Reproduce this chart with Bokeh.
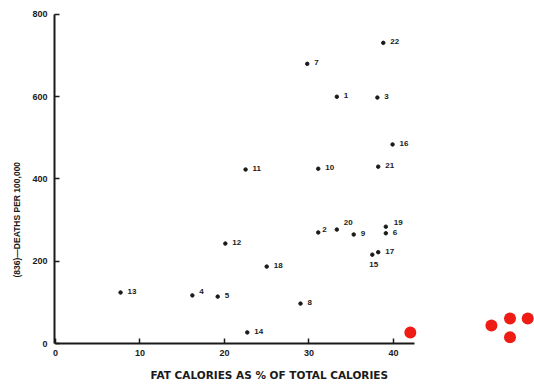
import math
from bokeh.plotting import figure
from bokeh.models import Range1d, FixedTicker, ColumnDataSource, Title
from bokeh.core.properties import value
from bokeh.embed import file_html
from bokeh.resources import INLINE

# ---- data ----
point_ids = ["1", "2", "3", "4", "5", "6", "7", "8", "9", "10", "11",
             "12", "13", "14", "15", "16", "17", "18", "19", "20", "21", "22"]
fat_pct = [33.3, 31.1, 38.1, 16.2, 19.2, 39.1, 29.8, 29.0, 35.3, 31.1, 22.5,
           20.1, 7.7, 22.7, 37.5, 39.9, 38.2, 25.0, 39.1, 33.3, 38.2, 38.8]
deaths = [600, 270, 598, 117, 114, 268, 680, 97, 265, 425, 423,
          243, 124, 27, 216, 484, 222, 187, 284, 277, 430, 731]

red_x = [42.0, 51.6, 53.8, 55.9, 53.8]
red_y = [27, 44, 61, 61, 15]

x_ticks = [0, 10, 20, 30, 40]
y_ticks = [0, 200, 400, 600, 800]
x_title = "FAT CALORIES AS % OF TOTAL CALORIES"
y_title = "(836)\u2014DEATHS PER 100,000"

# ---- label placement (styling only) ----
default_off = (7, -1)
special_off = {"2": (4, -3), "4": (7, -4), "15": (-3, 10), "19": (8, -4), "20": (7, -7)}
xo = [special_off.get(k, default_off)[0] for k in point_ids]
yo = [special_off.get(k, default_off)[1] for k in point_ids]

src = ColumnDataSource(dict(x=fat_pct, y=deaths, t=point_ids, xo=xo, yo=yo))

FONT = "Liberation Sans"
INK = "#1a1a1a"

p = figure(width=534, height=389,
           x_range=Range1d(-0.12, 56.7), y_range=Range1d(0, 834),
           output_backend="svg", toolbar_location=None,
           min_border_left=54, min_border_right=0,
           min_border_top=0, min_border_bottom=46)

p.scatter("x", "y", source=src, size=3.5, color=INK)
p.text("x", "y", text="t", source=src, x_offset="xo", y_offset="yo",
       text_font=value(FONT), text_font_style="bold", text_font_size="8px",
       text_baseline="middle", text_align="left", text_color=INK)

p.scatter(red_x, red_y, size=12, fill_color="#ee1c14", line_color=None)

p.xaxis.ticker = FixedTicker(ticks=x_ticks)
p.yaxis.ticker = FixedTicker(ticks=y_ticks)
p.xaxis.bounds = (0, 42.5)
p.yaxis.bounds = (0, 800)
for ax in (p.xaxis, p.yaxis):
    ax.major_tick_in = 5
    ax.major_tick_out = 0
    ax.minor_tick_in = 0
    ax.minor_tick_out = 0
    ax.axis_line_width = 2
    ax.axis_line_color = INK
    ax.major_tick_line_color = INK
    ax.major_tick_line_width = 1.5
    ax.major_label_text_font = FONT
    ax.major_label_text_font_style = "bold"
    ax.major_label_text_font_size = "9px"
    ax.major_label_text_color = INK
p.xaxis.major_label_standoff = 6
p.yaxis.major_label_standoff = 7

p.grid.visible = False
p.outline_line_color = None

p.add_layout(Title(text=x_title, align="left", offset=96, standoff=16,
                   text_font="DejaVu Sans", text_font_style="bold",
                   text_font_size="10.5px", text_color=INK), "below")
p.add_layout(Title(text=y_title, align="left", offset=66, standoff=16,
                   text_font=FONT, text_font_style="bold",
                   text_font_size="8.5px", text_color=INK), "left")

open("out.html", "w").write(file_html(p, INLINE))
